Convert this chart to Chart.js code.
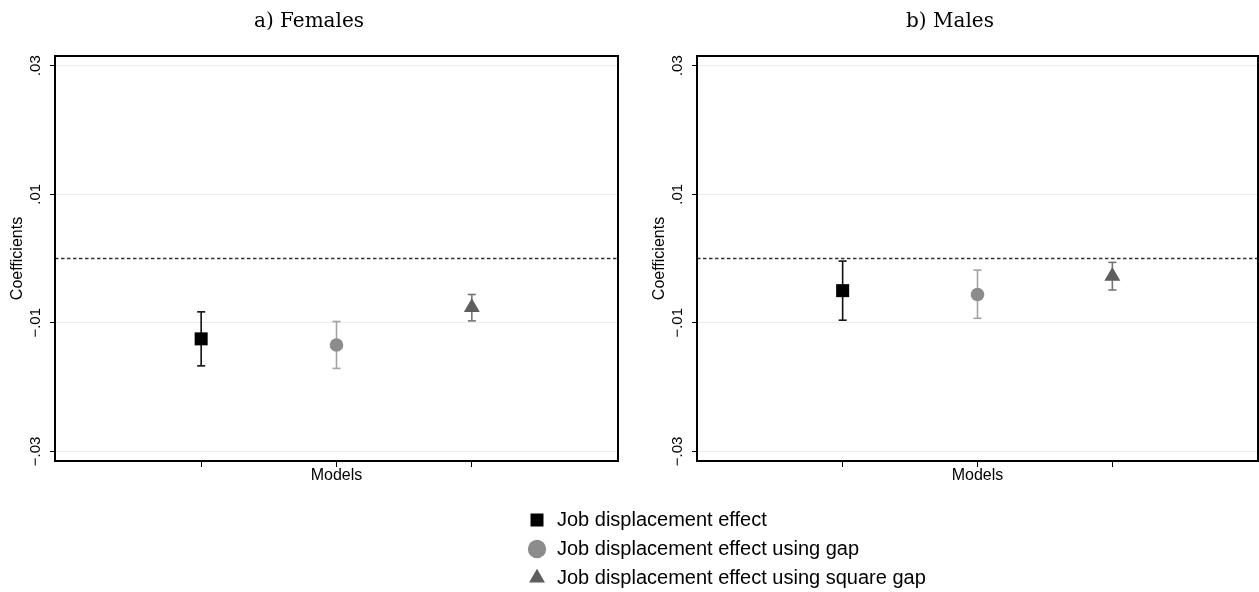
<!DOCTYPE html>
<html>
<head>
<meta charset="utf-8">
<script src="https://cdn.jsdelivr.net/npm/chart.js@4.4.1/dist/chart.umd.min.js"></script>
<style>
  html, body { margin: 0; padding: 0; background: #fff; overflow: hidden; }
  body { width: 1259px; height: 592px; position: relative; }
  .panel { position: absolute; }
  #femalesBox { left: 0; top: 0; width: 630px; height: 501px; }
  #malesBox { left: 642px; top: 0; width: 617px; height: 501px; }
  #legendBox { left: 518px; top: 501px; width: 430px; height: 130px; }
</style>
</head>
<body>
<div class="panel" id="femalesBox"><canvas id="females"></canvas></div>
<div class="panel" id="malesBox"><canvas id="males"></canvas></div>
<div class="panel" id="legendBox"><canvas id="legend"></canvas></div>
<script>
// series and model positions
const seriesNames = ['Job displacement effect', 'Job displacement effect using gap', 'Job displacement effect using square gap'];
const modelPos = [1, 2, 3];

// point estimates and confidence bounds
const femaleCoef = [-0.0125, -0.01345, -0.0076];
const femaleLow = [-0.0167, -0.0171, -0.0097];
const femaleHigh = [-0.0083, -0.0098, -0.0056];
const maleCoef = [-0.0050, -0.0056, -0.00275];
const maleLow = [-0.0096, -0.0093, -0.0049];
const maleHigh = [-0.0004, -0.0018, -0.0006];

// axes
const yTicks = [-0.03, -0.01, 0.01, 0.03];
const yTickLabels = ['\u2212.03', '\u2212.01', '.01', '.03'];
const xRange = [-0.08, 4.08];
const yRange = [-0.0315, 0.0315];

const markerStyles = ['rect', 'circle', 'triangle'];
const markerColors = ['#000000', '#8c8c8c', '#5e5e5e'];
const barColors = ['#111111', '#a3a3a3', '#757575'];
const markerRadius = [9.2, 6.8, 9.2];

const sans = 'Liberation Sans';

// frame round the plot area + rotated y tick labels
const panelPlugin = {
    id: 'panelFrame',
    afterDraw(chart) {
        const {ctx, chartArea: a, scales} = chart;
        ctx.save();
        ctx.strokeStyle = '#000';
        ctx.lineWidth = 2;
        ctx.strokeRect(a.left, a.top, a.right - a.left, a.bottom - a.top);
        ctx.fillStyle = '#000';
        ctx.font = '15px "' + sans + '"';
        ctx.textAlign = 'center';
        ctx.textBaseline = 'middle';
        yTicks.forEach((v, i) => {
            const py = scales.y.getPixelForValue(v);
            ctx.save();
            ctx.translate(a.left - 19, py);
            ctx.rotate(-Math.PI / 2);
            ctx.fillText(yTickLabels[i], 0, 0);
            ctx.restore();
        });
        ctx.restore();
    }
};

function buildDatasets(coef, low, high) {
    const ds = [];
    coef.forEach((c, i) => {
        ds.push({
            label: seriesNames[i],
            data: [{x: modelPos[i], y: c}],
            pointStyle: markerStyles[i],
            pointRadius: markerRadius[i],
            pointBackgroundColor: markerColors[i],
            backgroundColor: markerColors[i],
            pointBorderWidth: 0,
            order: 0
        });
    });
    coef.forEach((c, i) => {
        ds.push({
            label: 'ci',
            data: [{x: modelPos[i], y: low[i]}, {x: modelPos[i], y: high[i]}],
            showLine: true,
            borderColor: barColors[i],
            borderWidth: 1.6,
            pointStyle: 'line',
            pointRadius: 4,
            pointBorderColor: barColors[i],
            pointBorderWidth: 1.6,
            order: 1
        });
    });
    ds.push({
        label: 'zero',
        data: [{x: xRange[0], y: 0}, {x: xRange[1], y: 0}],
        showLine: true,
        borderColor: '#333333',
        borderWidth: 1.4,
        borderDash: [3.5, 2.5],
        pointRadius: 0,
        order: 2
    });
    return ds;
}

function panelOptions(titleText, rightPad) {
    return {
        responsive: true,
        maintainAspectRatio: false,
        animation: false,
        layout: { autoPadding: false, padding: { top: 2, right: rightPad, bottom: 0, left: 0 } },
        plugins: {
            legend: { display: false },
            tooltip: { enabled: false },
            title: {
                display: true,
                text: titleText,
                color: '#000',
                font: { family: 'DejaVu Serif', size: 20, weight: 'normal' },
                padding: { top: 8, bottom: 22 }
            }
        },
        scales: {
            x: {
                type: 'linear',
                min: xRange[0],
                max: xRange[1],
                afterBuildTicks: s => { s.ticks = modelPos.map(v => ({value: v})); },
                afterFit: s => { s.height = 40; s.paddingLeft = 0; s.paddingRight = 0; },
                ticks: { display: false },
                grid: { drawOnChartArea: false, drawTicks: true, tickLength: 6, tickColor: '#000', tickWidth: 1 },
                border: { display: false },
                title: { display: true, text: 'Models', color: '#000', font: { family: sans, size: 16 }, padding: { top: 0, bottom: 16 } }
            },
            y: {
                type: 'linear',
                min: yRange[0],
                max: yRange[1],
                afterBuildTicks: s => { s.ticks = yTicks.map(v => ({value: v})); },
                afterFit: s => { s.width = 55; s.paddingTop = 0; s.paddingBottom = 0; },
                ticks: { display: false },
                grid: { color: '#ebebeb', lineWidth: 1, drawTicks: true, tickLength: 5, tickColor: '#000', tickWidth: 1 },
                border: { display: false },
                title: { display: true, text: 'Coefficients', color: '#000', font: { family: sans, size: 16 }, padding: { top: 8, bottom: 0 } }
            }
        }
    };
}

new Chart(document.getElementById('females'), {
    type: 'scatter',
    data: { datasets: buildDatasets(femaleCoef, femaleLow, femaleHigh) },
    options: panelOptions('a) Females', 12),
    plugins: [panelPlugin]
});

new Chart(document.getElementById('males'), {
    type: 'scatter',
    data: { datasets: buildDatasets(maleCoef, maleLow, maleHigh) },
    options: panelOptions('b) Males', 1),
    plugins: [panelPlugin]
});

// legend only
new Chart(document.getElementById('legend'), {
    type: 'scatter',
    data: {
        datasets: seriesNames.map((n, i) => ({
            label: n,
            data: [],
            pointStyle: markerStyles[i],
            backgroundColor: markerColors[i],
            borderColor: markerColors[i],
            pointBorderWidth: 0
        }))
    },
    options: {
        responsive: true,
        maintainAspectRatio: false,
        animation: false,
        layout: { padding: 0 },
        scales: { x: { display: false }, y: { display: false } },
        plugins: {
            tooltip: { enabled: false },
            legend: {
                position: 'top',
                align: 'start',
                maxHeight: 200,
                labels: {
                    usePointStyle: true,
                    boxWidth: 20,
                    boxHeight: 13,
                    padding: 9,
                    color: '#000',
                    font: { family: sans, size: 20 }
                }
            }
        }
    }
});
</script>
</body>
</html>
